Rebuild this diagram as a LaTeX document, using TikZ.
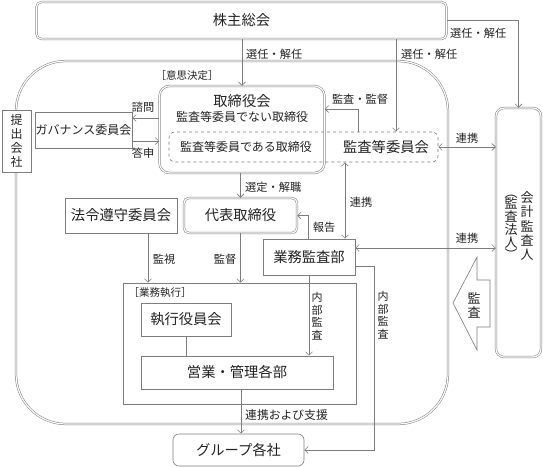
\documentclass[tikz,border=0pt]{standalone}
\usepackage{fontspec}
\setmainfont{Noto Sans CJK JP}
\usetikzlibrary{arrows.meta}
\definecolor{lgray}{RGB}{125,125,125}
\definecolor{txt}{RGB}{35,35,35}
\begin{document}
\begin{tikzpicture}[x=1pt,y=-1pt,
  line/.style={draw=lgray, line width=0.6pt},
  arr/.style={line, -{Straight Barb[length=3.5pt,width=7pt]}},
  darr/.style={line, {Straight Barb[length=3.5pt,width=7pt]}-{Straight Barb[length=3.5pt,width=7pt]}},
  box/.style={draw=lgray, line width=0.6pt, fill=white, inner sep=0pt, text=txt},
  dbox/.style={box, double=white, double distance=1.2pt, line width=0.5pt, rounded corners=#1},
  big/.style={font=\fontsize{14.3}{16}\selectfont},
  mid/.style={font=\fontsize{12}{14}\selectfont},
  lab/.style={text=txt, inner sep=0pt, font=\fontsize{11.2}{13}\selectfont},
  vlab/.style={text=txt, inner sep=0pt, align=center, font=\fontsize{11}{12.5}\selectfont},
]
\useasboundingbox (0,0) rectangle (543,467);

% big frame
\draw[draw=lgray, line width=0.5pt, double=white, double distance=1.2pt, rounded corners=50pt] (16,61) rectangle (448,424);

% nodes
\node[dbox=5pt, big, minimum width=410pt, minimum height=37pt] (sh) at (241.5,20.5) {株主総会};
\node[box, dashed, rounded corners=6pt, minimum width=269pt, minimum height=30pt, fill=none] (dash) at (303.5,147) {};
\node[dbox=10pt, minimum width=165pt, minimum height=87pt, fill=none] (board) at (242,129.5) {};
\node[big, text=txt, inner sep=0pt] (boardt) at (242,101) {取締役会};
\node[mid, text=txt, inner sep=0pt] (boardn) at (242,117) {監査等委員でない取締役};
\node[mid, text=txt, inner sep=0pt] (boardd) at (246,147) {監査等委員である取締役};
\node[big, text=txt, inner sep=0pt] (acom) at (386,147) {監査等委員会};
\node[lab, font=\fontsize{10.5}{12}\selectfont] (ishi) at (187,76) {［意思決定］};

\node[box, mid, minimum width=97pt, minimum height=36pt] (gov) at (83.5,130) {ガバナンス委員会};
\node[box, align=center, font=\fontsize{12}{14}\selectfont, minimum width=29pt, minimum height=62pt] (teishutsu) at (16.5,141) {提\\出\\会\\社};

\node[box, big, minimum width=112pt, minimum height=35pt] (hourei) at (121,215.5) {法令遵守委員会};
\node[dbox=5pt, big, minimum width=113pt, minimum height=35pt] (daihyo) at (240.5,215.5) {代表取締役};
\node[box, big, minimum width=92pt, minimum height=36pt] (audit) at (309,257) {業務監査部};

\node[box, minimum width=233pt, minimum height=121pt] (exec) at (239.5,343.5) {};
\node[lab, font=\fontsize{10.5}{12}\selectfont] (gyomut) at (160,293) {［業務執行］};
\node[box, big, minimum width=90pt, minimum height=33pt] (shikko) at (186,319.5) {執行役員会};
\node[box, big, minimum width=192pt, minimum height=33pt] (eigyo) at (237,372.5) {営業・管理各部};
\node[box, big, rounded corners=6pt, minimum width=131pt, minimum height=32pt] (group) at (238.5,450) {グループ各社};

\node[dbox=8pt, minimum width=45pt, minimum height=249pt] (kaikei) at (518.5,232.5) {};
\node[text=txt, inner sep=0pt, align=center, font=\fontsize{13}{14.2}\selectfont] (kaikeit1) at (527,226) {会\\計\\監\\査\\人};
\node[text=txt, inner sep=0pt, align=center, font=\fontsize{13}{13}\selectfont] (kaikeit2) at (511,227) {︵\\[-1.5pt]監\\査\\法\\人\\[-1.5pt]︶};

% block arrow
\draw[line, fill=white] (453,303) -- (477,257) -- (477,280) -- (490,280) -- (490,327) -- (477,327) -- (477,350) -- cycle;
\node[text=txt, inner sep=0pt, align=center, font=\fontsize{13}{14}\selectfont] (kansa) at (474,305) {監\\査};

% helper coordinates
\coordinate (xa) at (396,0);
\coordinate (xm) at (358,109);
\coordinate (ys1) at (0,118);
\coordinate (ys2) at (0,141);
\coordinate (xr) at (308,216);
\coordinate (xl) at (345,0);
\coordinate (yl) at (0,248);
\coordinate (xs) at (148,0);
\coordinate (xg) at (241,0);
\coordinate (yo) at (0,266);
\coordinate (xo) at (374,0);

% connectors
\draw[arr] (sh.south -| board.north) -- (board.north);
\node[lab, anchor=west] (l1) at (246,54) {選任・解任};
\draw[arr] (sh.south -| xa) -- (dash.north -| xa);
\node[lab, anchor=west] (l2) at (401,54) {選任・解任};
\draw[arr] (sh.east) -| (kaikei.north);
\node[lab, anchor=west] (l3) at (450,33) {選任・解任};

\draw[arr] (dash.north -| xm) |- (board.east |- xm);
\node[lab] (l4) at (360,99) {監査・監督};

\draw[arr] (board.west |- ys1) -- (gov.east |- ys1);
\node[lab] (l5) at (143,107) {諮問};
\draw[arr] (gov.east |- ys2) -- (board.west |- ys2);
\node[lab] (l6) at (143,153) {答申};

\draw[arr] (board.south -| daihyo.north) -- (daihyo.north);
\node[lab, anchor=west] (l7) at (245,187) {選定・解職};

\draw[arr] (audit.north -| xr) |- (daihyo.east);
\node[lab] (l8) at (324,227) {報告};

\draw[darr] (dash.south -| xl) -- (audit.north -| xl);
\node[lab] (l9) at (361,202) {連携};

\draw[darr] (dash.east) -- (kaikei.west |- dash.east);
\node[lab] (l10) at (467,138) {連携};
\draw[darr] (audit.east |- yl) -- (kaikei.west |- yl);
\node[lab] (l11) at (467,238) {連携};

\draw[arr] (hourei.south -| xs) -- (exec.north -| xs);
\node[lab] (l12) at (164,259) {監視};
\draw[arr] (daihyo.south) -- (exec.north -| daihyo.south);
\node[lab] (l13) at (225,259) {監督};

\draw[line] (shikko.south) -- (eigyo.north -| shikko.south);
\draw[arr] (audit.south) -- (eigyo.north -| audit.south);
\node[vlab] (l14) at (317,316) {内\\部\\監\\査};

\draw[arr] (eigyo.south -| xg) -- (group.north -| xg);
\node[lab, font=\fontsize{11.8}{13}\selectfont, anchor=west] (l15) at (245,415) {連携および支援};

\draw[arr] (audit.east |- yo) -- (xo |- yo) -- (xo |- group.east) -- (group.east);
\node[vlab] (l16) at (383,315) {内\\部\\監\\査};
\end{tikzpicture}
\end{document}
